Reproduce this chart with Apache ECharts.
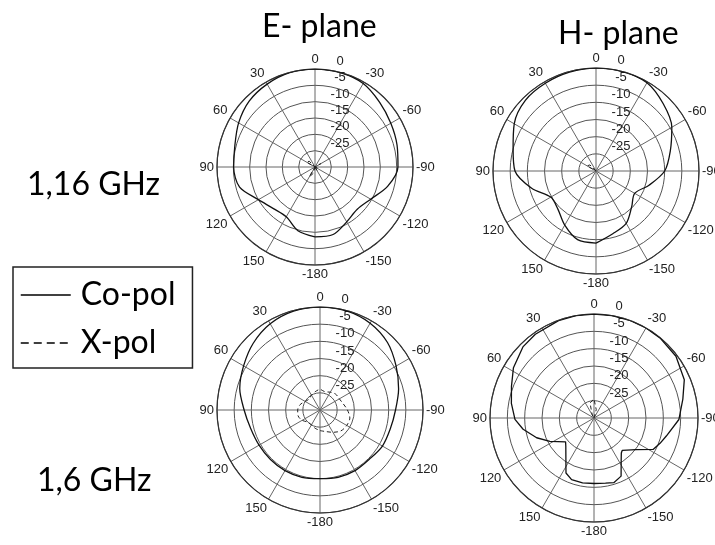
<!DOCTYPE html>
<html>
<head>
<meta charset="utf-8">
<script src="https://cdn.jsdelivr.net/npm/echarts@6/dist/echarts.min.js"></script>
<style>
  html, body { margin: 0; padding: 0; background: #fff; }
  #chart { width: 715px; height: 545px; }
</style>
</head>
<body>
<div id="chart"></div>
<script>
// angles in degrees, 0 = broadside (top), positive counter-clockwise
const angles15 = [-180, -165, -150, -135, -120, -105, -90, -75, -60, -45, -30, -15, 0,
  15, 30, 45, 60, 75, 90, 105, 120, 135, 150, 165, 180];

// E-plane, 1.16 GHz
const eCo116 = [-8.6, -8.6, -10.6, -11.7, -10.3, -7.0, -4.6, -4.0, -3.2, -2.0, -0.5, -0.1, 0,
  -0.1, -0.7, -1.5, -3.0, -4.6, -5.1, -6.1, -10.0, -12.0, -12.4, -9.8, -8.6];
const eX116 = [-30, -30, -28.5, -30, -30, -29, -30, -30, -28, -30, -30, -30, -30,
  -30, -30, -27.5, -27, -30, -30, -30, -30, -30, -26.5, -28, -30];

// H-plane, 1.16 GHz
const hCo116 = [-9.0, -11.1, -12.4, -15.3, -17.0, -14.0, -10.0, -7.6, -4.5, -2.3, -0.3, 0, 0,
  -0.2, -0.5, -0.9, -2.5, -5.0, -6.4, -10.6, -14.8, -14.3, -11.8, -9.3, -9.0];
const hX116 = [-30, -30, -30, -30, -30, -30, -30, -30, -30, -30, -30, -30, -30,
  -30, -30, -27.5, -27, -30, -30, -30, -30, -30, -30, -30, -30];

// E-plane, 1.6 GHz
const eCo16 = [-10, -9.7, -9.6, -9.7, -9.0, -8.8, -8.0, -6.3, -4.4, -2.2, -0.8, -0.1, 0,
  -0.2, -1.0, -2.5, -4.3, -5.8, -7.9, -9.1, -9.5, -9.6, -9.6, -9.7, -10];
const eX16 = [-24, -23.5, -22.5, -21.4, -21, -21, -22, -23, -23.5, -23.5, -24, -24.5, -24,
  -24.5, -25, -25.5, -25, -24, -23.5, -23.4, -24, -25, -25, -24.5, -24];

// H-plane, 1.6 GHz (finer angles around the sharp steps)
const anglesH16 = [-180, -170, -163, -155, -147, -142, -139, -127, -118, -111, -104, -91,
  -78, -67, -53, -40, -30, -20, -10, 0, 10, 20, 35, 45, 58, 69, 80, 91, 99, 109, 118,
  130, 135, 146, 153, 160, 170, 180];
const hCo16 = [-11.1, -10.9, -10.5, -11.5, -15.6, -17.2, -17.6, -14.8, -10.7, -9.6, -8.5, -5.5,
  -3.8, -1.7, -0.4, -0.1, 0, 0, 0, 0, 0, -0.1, -0.5, -1.0, -2.6, -4.5, -5.8, -7.2, -9.3, -12.5, -15.6,
  -19.3, -18.5, -15.5, -12.2, -11.1, -11.0, -11.1];
const hX16 = [-30, -30, -30, -30, -30, -30, -30, -30, -30, -30, -30, -27.5, -24.5,
  -25.5, -29, -30, -30, -30, -30, -30, -30, -30, -30, -30, -30];

const dbTicks = [-30, -25, -20, -15, -10, -5, 0];

const plots = [
  { center: [315, 167], radius: 98, co: [angles15, eCo116], x: [angles15, eX116], xSmooth: false },
  { center: [596, 171], radius: 103, co: [angles15, hCo116], x: [angles15, hX116], xSmooth: false },
  { center: [320, 410], radius: 103, co: [angles15, eCo16], x: [angles15, eX16], xSmooth: true },
  { center: [594, 418], radius: 104, co: [anglesH16, hCo16], x: [angles15, hX16], xSmooth: false, coSharp: true }
];

const toPolar = (angs, vals) => angs.map((a, i) => [vals[i], a < 0 ? a + 360 : a]);

const numFont = 'Liberation Sans';
const myChart = echarts.init(document.getElementById('chart'), null, { renderer: 'canvas' });

const option = {
  animation: false,
  backgroundColor: '#fff',
  polar: plots.map(p => ({ center: p.center, radius: p.radius })),
  angleAxis: plots.map((p, i) => ({
    polarIndex: i,
    type: 'value',
    min: 0,
    max: 360,
    interval: 30,
    startAngle: 90,
    clockwise: false,
    axisLine: { lineStyle: { color: '#333', width: 1.2 } },
    axisTick: { show: false },
    axisLabel: {
      margin: 3,
      fontSize: 13,
      fontFamily: numFont,
      color: '#222',
      formatter: v => v === 360 ? '' : (v >= 180 ? v - 360 : v)
    },
    splitLine: { show: true, lineStyle: { color: '#666', width: 1 } }
  })),
  radiusAxis: plots.map((p, i) => ({
    polarIndex: i,
    type: 'value',
    min: dbTicks[0],
    max: dbTicks[dbTicks.length - 1],
    interval: 5,
    axisLine: { show: false },
    axisTick: { show: false },
    axisLabel: {
      margin: -25,
      align: 'center',
      verticalAlign: 'bottom',
      padding: [0, 0, 1, 0],
      fontSize: 13,
      fontFamily: numFont,
      color: '#222',
      formatter: v => v === -30 ? '' : v
    },
    splitLine: { show: true, lineStyle: { color: '#555', width: 1 } }
  })),
  legend: {
    left: 13,
    top: 267,
    orient: 'vertical',
    selectedMode: false,
    padding: [10, 17, 7, 7],
    itemWidth: 50,
    itemHeight: 14,
    itemGap: 12,
    borderColor: '#222',
    borderWidth: 1.5,
    textStyle: { fontFamily: 'Lato', fontSize: 32, color: '#000', lineHeight: 36, padding: [0, 0, 0, 5] },
    data: [
      { name: 'Co-pol', itemStyle: { opacity: 0 }, lineStyle: { width: 1.5, type: 'solid', color: '#000' } },
      { name: 'X-pol', itemStyle: { opacity: 0 }, lineStyle: { width: 1.5, type: [8, 5], color: '#000' } }
    ]
  },
  graphic: [
    { type: 'text', style: { x: 262, y: 27, text: 'E- plane', font: '32px Lato', fill: '#000', verticalAlign: 'middle' } },
    { type: 'text', style: { x: 558, y: 34, text: 'H- plane', font: '32px Lato', fill: '#000', verticalAlign: 'middle' } },
    { type: 'text', style: { x: 27, y: 185, text: '1,16 GHz', font: '32px Lato', fill: '#000', verticalAlign: 'middle' } },
    { type: 'text', style: { x: 37, y: 481, text: '1,6 GHz', font: '32px Lato', fill: '#000', verticalAlign: 'middle' } }
  ],
  series: plots.flatMap((p, i) => [
    {
      name: 'Co-pol',
      type: 'line',
      coordinateSystem: 'polar',
      polarIndex: i,
      symbol: 'none',
      smooth: p.coSharp ? false : 0.3,
      itemStyle: { color: '#000' },
      lineStyle: { color: '#111', width: 1.3 },
      data: toPolar(p.co[0], p.co[1])
    },
    {
      name: 'X-pol',
      type: 'line',
      coordinateSystem: 'polar',
      polarIndex: i,
      symbol: 'none',
      smooth: p.xSmooth ? 0.3 : false,
      itemStyle: { color: '#000' },
      lineStyle: { color: '#222', width: 1, type: [4, 3] },
      data: toPolar(p.x[0], p.x[1])
    }
  ])
};

myChart.setOption(option);
</script>
</body>
</html>
